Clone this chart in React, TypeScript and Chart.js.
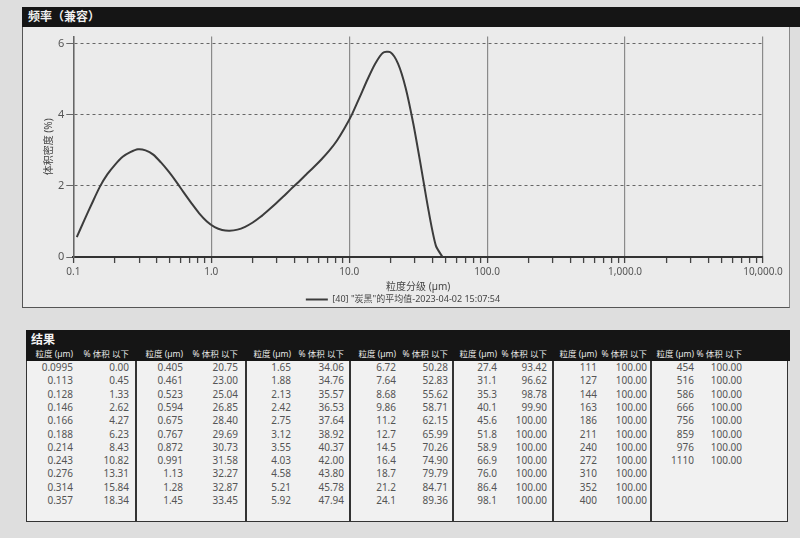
import React, { useEffect, useRef } from "react";
import { Chart, registerables } from "chart.js";

Chart.register(...registerables);

// ---- Chart data ----
const curveSizes = [
  0.106, 0.12, 0.137, 0.156, 0.177, 0.201, 0.228, 0.259, 0.294, 0.334, 0.38, 0.432, 0.492,
  0.557, 0.633, 0.72, 0.818, 0.93, 1.06, 1.2, 1.36, 1.55, 1.76, 2.0, 2.28, 2.58, 2.93, 3.33,
  3.78, 4.3, 4.88, 5.55, 6.31, 7.17, 8.14, 9.25, 10.5, 11.9, 13.6, 15.4, 17.5, 19.9, 22.6,
  25.7, 29.2, 33.2, 37.6, 42.5, 47.5,
];
const curveDensity = [
  0.56, 1.03, 1.52, 1.98, 2.33, 2.6, 2.82, 2.95, 3.03, 3.0, 2.88, 2.66, 2.4,
  2.12, 1.81, 1.51, 1.23, 1.0, 0.84, 0.76, 0.74, 0.77, 0.85, 0.97, 1.13, 1.31, 1.5, 1.7,
  1.91, 2.11, 2.32, 2.53, 2.75, 2.99, 3.27, 3.62, 4.02, 4.49, 5.0, 5.43, 5.74, 5.76, 5.44,
  4.75, 3.74, 2.53, 1.31, 0.32, 0.0,
];
const decadeTicks = [0.1, 1, 10, 100, 1000, 10000];
const decadeLabels = ["0.1", "1.0", "10.0", "100.0", "1,000.0", "10,000.0"];
const yTickValues = [0, 2, 4, 6];

const seriesLabel = '[40] "炭黑"的平均值-2023-04-02 15:07:54';
const panelTitle = "频率（兼容）";
const xTitle = "粒度分级 (µm)";
const yTitle = "体积密度 (%)";

// ---- Table data ----
const tableTitle = "结果";
const sizeHeader = "粒度 (µm)";
const pctHeader = "% 体积 以下";
const tableSizes = [
  "0.0995", "0.113", "0.128", "0.146", "0.166", "0.188", "0.214", "0.243", "0.276", "0.314", "0.357",
  "0.405", "0.461", "0.523", "0.594", "0.675", "0.767", "0.872", "0.991", "1.13", "1.28", "1.45",
  "1.65", "1.88", "2.13", "2.42", "2.75", "3.12", "3.55", "4.03", "4.58", "5.21", "5.92",
  "6.72", "7.64", "8.68", "9.86", "11.2", "12.7", "14.5", "16.4", "18.7", "21.2", "24.1",
  "27.4", "31.1", "35.3", "40.1", "45.6", "51.8", "58.9", "66.9", "76.0", "86.4", "98.1",
  "111", "127", "144", "163", "186", "211", "240", "272", "310", "352", "400",
  "454", "516", "586", "666", "756", "859", "976", "1110",
];
const tableCumulative = [
  "0.00", "0.45", "1.33", "2.62", "4.27", "6.23", "8.43", "10.82", "13.31", "15.84", "18.34",
  "20.75", "23.00", "25.04", "26.85", "28.40", "29.69", "30.73", "31.58", "32.27", "32.87", "33.45",
  "34.06", "34.76", "35.57", "36.53", "37.64", "38.92", "40.37", "42.00", "43.80", "45.78", "47.94",
  "50.28", "52.83", "55.62", "58.71", "62.15", "65.99", "70.26", "74.90", "79.79", "84.71", "89.36",
  "93.42", "96.62", "98.78", "99.90", "100.00", "100.00", "100.00", "100.00", "100.00", "100.00", "100.00",
  "100.00", "100.00", "100.00", "100.00", "100.00", "100.00", "100.00", "100.00", "100.00", "100.00", "100.00",
  "100.00", "100.00", "100.00", "100.00", "100.00", "100.00", "100.00", "100.00",
];
const rowsPerGroup = 11;

// ---- Layout (page pixels) ----
const groupLefts = [26, 136, 246, 350, 453, 553, 651, 788];
const sizeRight = [73, 183, 291, 396, 497, 597, 694];
const pctRight = [129, 238, 344, 448, 547, 647, 742];

const FONT = '"Noto Sans", "Noto Sans CJK SC", sans-serif';

function isDecade(v: number) {
  return decadeTicks.some((d) => Math.abs(d - v) / d < 1e-6);
}

function FreqChart() {
  const ref = useRef<HTMLCanvasElement | null>(null);
  useEffect(() => {
    if (!ref.current) return;
    const allTicks: number[] = [];
    decadeTicks.forEach((d, i) => {
      allTicks.push(d);
      if (i < decadeTicks.length - 1) for (let k = 2; k <= 9; k++) allTicks.push(d * k);
    });
    const chart = new Chart(ref.current, {
      type: "line",
      data: {
        datasets: [
          {
            label: seriesLabel,
            data: curveSizes.map((x, i) => ({ x, y: curveDensity[i] })),
            borderColor: "#3c3c3c",
            backgroundColor: "#3c3c3c",
            borderWidth: 2,
            pointRadius: 0,
            tension: 0.25,
          },
        ],
      },
      options: {
        responsive: false,
        animation: false,
        layout: { padding: { left: 21, right: 27, top: 0, bottom: 0 } },
        font: { family: FONT },
        plugins: {
          tooltip: { enabled: false },
          legend: {
            position: "bottom",
            labels: {
              usePointStyle: true,
              pointStyle: "line",
              pointStyleWidth: 22,
              boxHeight: 6,
              padding: 1,
              color: "#444",
              font: { family: FONT, size: 9 },
            },
          },
        },
        scales: {
          x: {
            type: "logarithmic",
            min: 0.1,
            max: 10000,
            afterBuildTicks: (axis: any) => {
              axis.ticks = allTicks.map((v) => ({ value: v }));
            },
            ticks: {
              autoSkip: false,
              maxRotation: 0,
              padding: 3,
              color: "#555",
              font: { family: FONT, size: 10 },
              callback: (value: any) => {
                const i = decadeTicks.findIndex((d) => Math.abs(d - value) / d < 1e-6);
                return i >= 0 ? decadeLabels[i] : "";
              },
            },
            grid: {
              color: (ctx: any) => (ctx.tick && isDecade(ctx.tick.value) ? "#8a8a8a" : "rgba(0,0,0,0)"),
              lineWidth: 1.2,
              tickLength: 6,
              tickColor: "#444",
              tickWidth: 1.3,
            },
            border: { color: "#333", width: 2 },
            title: {
              display: true,
              text: xTitle,
              color: "#444",
              font: { family: FONT, size: 10 },
              padding: { top: 0, bottom: 1 },
            },
          },
          y: {
            type: "linear",
            min: 0,
            max: 6.2,
            afterBuildTicks: (axis: any) => {
              axis.ticks = yTickValues.map((v) => ({ value: v }));
            },
            ticks: {
              color: "#555",
              padding: 2,
              font: { family: FONT, size: 11 },
            },
            grid: {
              color: (ctx: any) => (ctx.tick && ctx.tick.value === 0 ? "rgba(0,0,0,0)" : "#666"),
              lineWidth: 1,
              tickLength: 7,
              tickColor: "#666",
            },
            border: { color: "#666", width: 1.5, dash: [3, 3] },
            title: {
              display: true,
              text: yTitle,
              color: "#444",
              font: { family: FONT, size: 10 },
              padding: { top: 0, bottom: 1 },
            },
          },
        },
      },
    });
    return () => chart.destroy();
  }, []);
  return <canvas ref={ref} width={768} height={286} style={{ display: "block" }} />;
}

function ResultsTable() {
  const groups: { sizes: string[]; pcts: string[] }[] = [];
  for (let i = 0; i < tableSizes.length; i += rowsPerGroup) {
    groups.push({ sizes: tableSizes.slice(i, i + rowsPerGroup), pcts: tableCumulative.slice(i, i + rowsPerGroup) });
  }
  const top = 330;
  const headEnd = 361;
  const bottom = 522;
  const rowTop = 361;
  const rowStep = 13.3;
  const textStyle: React.CSSProperties = {
    position: "absolute",
    fontFamily: FONT,
    fontSize: 10,
    color: "#555",
    whiteSpace: "nowrap",
    lineHeight: "13px",
  };
  return (
    <>
      <div style={{ position: "absolute", left: 26, top, width: 790 - 26, height: headEnd - top, background: "#151515" }} />
      <div style={{ position: "absolute", left: 31, top: top + 2, color: "#f2f2f2", fontFamily: FONT, fontSize: 12, fontWeight: 700, lineHeight: "16px" }}>
        {tableTitle}
      </div>
      <div style={{ position: "absolute", left: 26, top: headEnd, width: 788 - 26, height: bottom - headEnd, background: "#f1f1f1", border: "1.5px solid #333", borderTop: "none", boxSizing: "border-box" }} />
      {groups.map((g, gi) => (
        <React.Fragment key={gi}>
          {gi > 0 && (
            <div style={{ position: "absolute", left: groupLefts[gi] - 1, top: headEnd, width: 2, height: bottom - headEnd, background: "#333" }} />
          )}
          <div style={{ ...textStyle, color: "#e8e8e8", fontSize: 8.5, top: 347, right: 800 - sizeRight[gi] }}>{sizeHeader}</div>
          <div style={{ ...textStyle, color: "#e8e8e8", fontSize: 8.5, top: 347, right: 800 - pctRight[gi] }}>{pctHeader}</div>
          {g.sizes.map((s, ri) => (
            <React.Fragment key={ri}>
              <div style={{ ...textStyle, top: rowTop + ri * rowStep, right: 800 - sizeRight[gi] }}>{s}</div>
              <div style={{ ...textStyle, top: rowTop + ri * rowStep, right: 800 - pctRight[gi] }}>{g.pcts[ri]}</div>
            </React.Fragment>
          ))}
        </React.Fragment>
      ))}
    </>
  );
}

export default function App() {
  return (
    <div style={{ position: "absolute", left: 0, top: 0, width: 800, height: 538, background: "#dedede", overflow: "hidden" }}>
      {/* chart panel */}
      <div style={{ position: "absolute", left: 22, top: 26, width: 768, height: 282, background: "#ebebeb", borderLeft: "1.5px solid #555", borderBottom: "1.5px solid #555", borderRight: "1px solid #888", boxSizing: "border-box" }} />
      <div style={{ position: "absolute", left: 22, top: 7, width: 778, height: 20, background: "#151515" }} />
      <div style={{ position: "absolute", left: 28, top: 8, color: "#efefef", fontFamily: FONT, fontSize: 12, fontWeight: 700, lineHeight: "18px" }}>
        {panelTitle}
      </div>
      <div style={{ position: "absolute", left: 22, top: 28 }}>
        <FreqChart />
      </div>
      <ResultsTable />
    </div>
  );
}
